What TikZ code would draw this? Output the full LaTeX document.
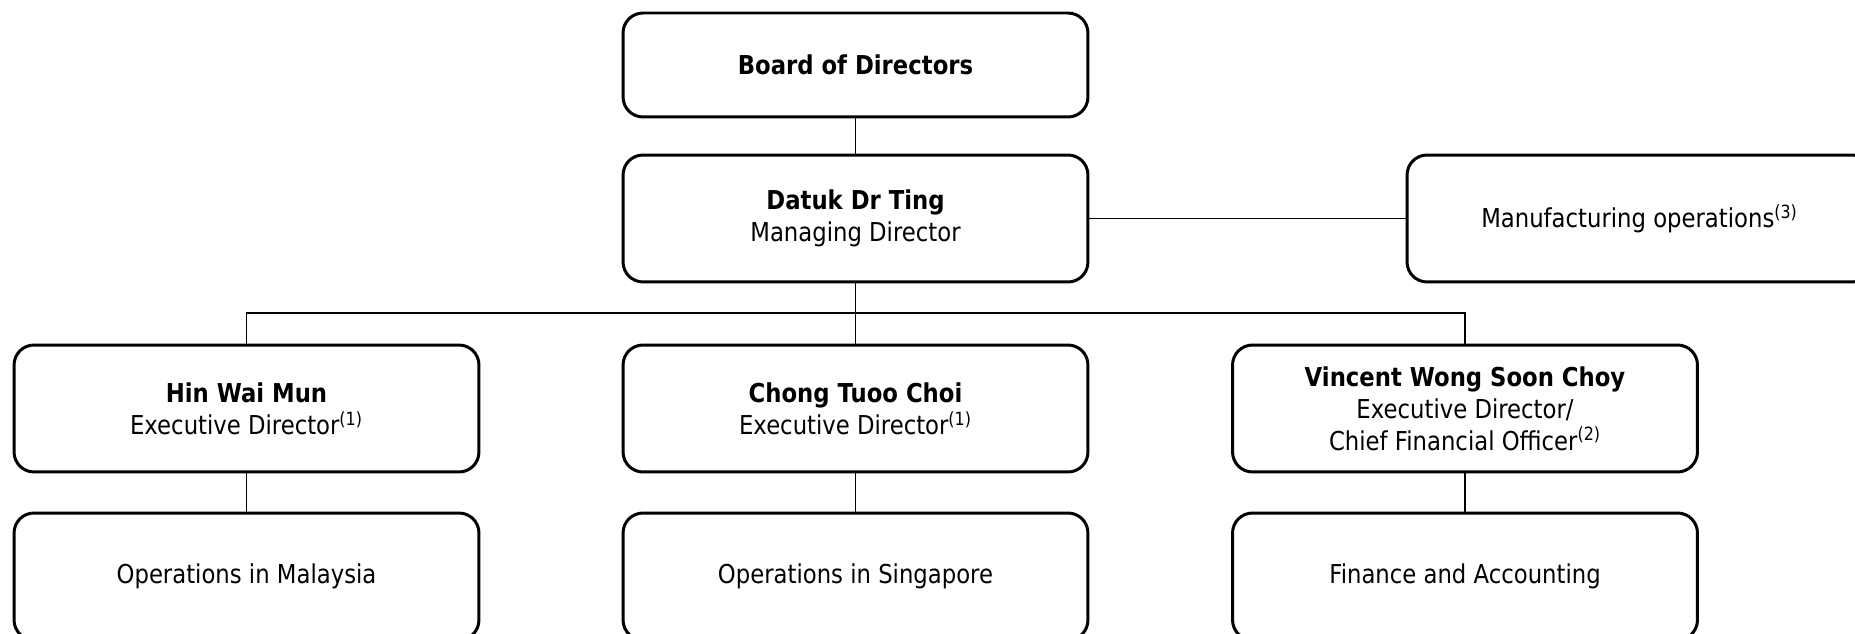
\documentclass[tikz,border=0pt]{standalone}
\usepackage{fontspec}
\setmainfont{DejaVu Sans}[FakeStretch=0.875]
\usepackage{tikz}

\begin{document}
\begin{tikzpicture}[x=0.02cm,y=-0.02cm,
  orgbox/.style={draw,line width=1.7pt,rounded corners=0.4cm,minimum width=9.3cm,
    minimum height=2.54cm,align=center,inner sep=0pt,
    font=\fontsize{14.8}{18.2}\selectfont},
  link/.style={line width=1.1pt}]
\clip (0,0) rectangle (1855,634);
\node[orgbox,minimum height=2.08cm] (board) at (855.5,65) {\textbf{Board of Directors}};
\node[orgbox] (ting) at (855.5,218.5) {\textbf{Datuk Dr Ting}\\Managing Director};
\node[orgbox] (manuf) at (1639.5,218.5) {Manufacturing operations\textsuperscript{(3)}};
\node[orgbox] (hin) at (246.5,408.5) {\textbf{Hin Wai Mun}\\Executive Director\textsuperscript{(1)}};
\node[orgbox] (chong) at (855.5,408.5) {\textbf{Chong Tuoo Choi}\\Executive Director\textsuperscript{(1)}};
\node[orgbox] (vincent) at (1465,408.5) {\textbf{Vincent Wong Soon Choy}\\Executive Director/\\Chief Financial Officer\textsuperscript{(2)}};
\node[orgbox] (malaysia) at (246.5,576.5) {Operations in Malaysia};
\node[orgbox] (singapore) at (855.5,576.5) {Operations in Singapore};
\node[orgbox] (finance) at (1465,576.5) {Finance and Accounting};
\coordinate (bus) at (855.5,313);
% lines between boxes
\draw[link] (board) -- (ting);
\draw[link] (ting) -- (manuf);
\draw[link] (ting) -- (bus);
\draw[link] (hin.north) |- (bus) -| (vincent.north);
\draw[link] (bus) -- (chong);
\draw[link] (hin) -- (malaysia);
\draw[link] (chong) -- (singapore);
\draw[link] (vincent) -- (finance);
\end{tikzpicture}
\end{document}
